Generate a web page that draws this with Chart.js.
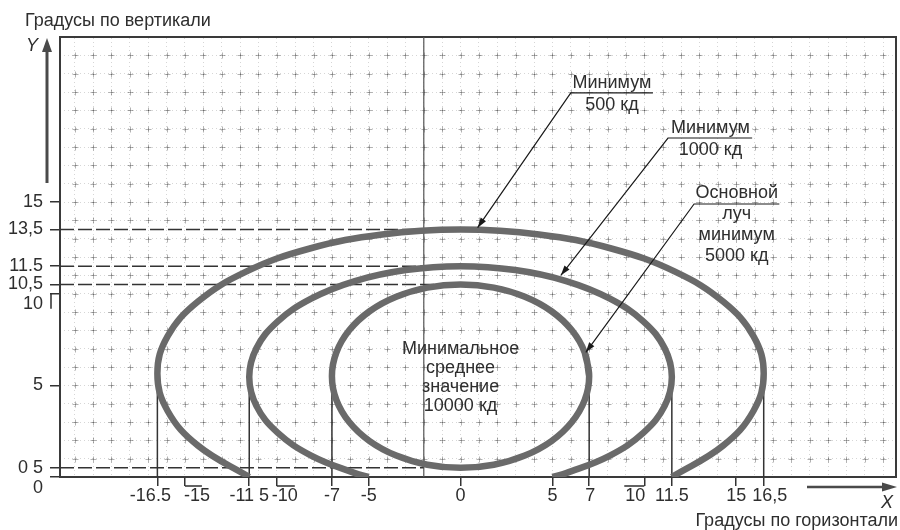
<!DOCTYPE html>
<html lang="ru">
<head>
<meta charset="utf-8">
<title>Градусы по вертикали и горизонтали</title>
<script src="https://cdn.jsdelivr.net/npm/chart.js@4.4.1/dist/chart.umd.min.js"></script>
<style>
  html, body { margin: 0; padding: 0; background: #fff; }
  #wrap { width: 900px; height: 530px; }
</style>
</head>
<body>
<div id="wrap"><canvas id="chart" width="900" height="530"></canvas></div>
<script>
// axis ranges, degrees
const xMin = -21.8, xMax = 23.7;
const yMin = 0, yMax = 24;

// ticks and the labels printed under them
const xTicks = [-16.5, -15, -11.5, -10, -7, -5, 0, 5, 7, 10, 11.5, 15, 16.5];
const xLabels = ['-16.5', '-15', '-11 5', '-10', '-7', '-5', '0', '5', '7', '10', '11.5', '15', '16,5'];
const yTicks = [0, 0.5, 5, 10, 10.5, 11.5, 13.5, 15];
const yLabels = ['0', '0 5', '5', '10', '10,5', '11.5', '13,5', '15'];

// isolines, points [x, y]
const curve500 = [[-11.5, 0], [-14.29, 1.71], [-15.94, 3.6], [-16.5, 5.64], [-15.94, 7.68], [-14.29, 9.57],
  [-11.67, 11.2], [-8.25, 12.45], [-4.27, 13.23], [0, 13.5], [4.27, 13.23], [8.25, 12.45], [11.67, 11.2],
  [14.29, 9.57], [15.94, 7.68], [16.5, 5.64], [15.94, 3.6], [14.29, 1.71], [11.5, 0]];
const curve1000 = [[-5, 0], [-5.75, 0.21], [-8.13, 1.17], [-9.96, 2.42], [-11.11, 3.88], [-11.5, 5.45],
  [-11.11, 7.02], [-9.96, 8.48], [-8.13, 9.73], [-5.75, 10.69], [-2.98, 11.29], [0, 11.5], [2.98, 11.29],
  [5.75, 10.69], [8.13, 9.73], [9.96, 8.48], [11.11, 7.02], [11.5, 5.45], [11.11, 3.88], [9.96, 2.42],
  [8.13, 1.17], [5.75, 0.21], [5, 0]];
const curve5000 = [[7, 5.5], [6.76, 6.79], [6.06, 8], [4.95, 9.04], [3.5, 9.83], [1.81, 10.33], [0, 10.5],
  [-1.81, 10.33], [-3.5, 9.83], [-4.95, 9.04], [-6.06, 8], [-6.76, 6.79], [-7, 5.5], [-6.76, 4.21],
  [-6.06, 3], [-4.95, 1.96], [-3.5, 1.17], [-1.81, 0.67], [0, 0.5], [1.81, 0.67], [3.5, 1.17], [4.95, 1.96],
  [6.06, 3], [6.76, 4.21], [7, 5.5], [6.76, 6.79]];

// dashed levels and the x where each one stops
const levelY = [13.5, 11.5, 10.5, 0.5];
const levelEnd = [0.8, 0.4, 0, -2];

// drop lines from the widest points down to the axis
const dropX = [-16.5, -11.5, -7, 7, 11.5, 16.5];
const dropTop = [5.64, 5.45, 5.5, 5.5, 5.45, 5.64];
const centerLineX = -2;

// callouts: arrow tip, underline start, underline end
const leader500 = [[0.93, 13.6], [6.0, 20.95], [10.47, 20.95]];
const leader1000 = [[5.46, 11.0], [11.29, 18.49], [15.87, 18.49]];
const leader5000 = [[6.82, 6.8], [12.71, 14.89], [17.35, 14.89]];
const noteText = [['Минимум', '500 кд'], ['Минимум', '1000 кд'],
  ['Основной', 'луч', 'минимум', '5000 кд'], ['Минимальное', 'среднее', 'значение', '10000 кд']];
const noteAt = [[8.24, 21.49], [13.6, 19.04], [15.03, 15.49], [0, 6.98]];

// styling only
const ink = '#2e2e2e';
const frame = '#3a3a3a';
const curveColor = '#6a6a6a';
const xLabelShift = [-7, 12, 0, 8, 0, 0, 0, 0, 1, -9, 0, 0, 6];
const xBracket = [0, 17, 0, 18, 0, 0, 0, 0, 0, -20, 0, 0, 0];
const yLowered = [true, false, false, true, false, false, false, false];
const noteGap = [22, 22, 21, 19];

const font = (size, style) => (style ? style + ' ' : '') + size + 'px "Liberation Sans", Arial, sans-serif';
const pts = arr => arr.map(p => ({ x: p[0], y: p[1] }));

function arrowHead(ctx, tx, ty, ang, len, half) {
  const bx = tx - len * Math.cos(ang), by = ty - len * Math.sin(ang);
  ctx.beginPath();
  ctx.moveTo(tx, ty);
  ctx.lineTo(bx + half * Math.sin(ang), by - half * Math.cos(ang));
  ctx.lineTo(bx - half * Math.sin(ang), by + half * Math.cos(ang));
  ctx.closePath();
  ctx.fill();
}

const drawings = {
  id: 'drawings',
  beforeDatasetsDraw(chart) {
    // small crosses on every grid node
    const { ctx, chartArea: a } = chart;
    const xs = chart.scales.xg, ys = chart.scales.yg;
    ctx.save();
    ctx.strokeStyle = 'rgba(0,0,0,0.3)';
    ctx.lineWidth = 1;
    ctx.beginPath();
    xs.ticks.forEach(tx => {
      const px = Math.round(xs.getPixelForValue(tx.value)) + 0.5;
      if (px <= a.left + 2 || px >= a.right - 2) return;
      ys.ticks.forEach(ty => {
        const py = Math.round(ys.getPixelForValue(ty.value)) + 0.5;
        if (py <= a.top + 2 || py >= a.bottom - 2) return;
        ctx.moveTo(px - 3, py); ctx.lineTo(px + 3, py);
        ctx.moveTo(px, py - 3); ctx.lineTo(px, py + 3);
      });
    });
    ctx.stroke();
    ctx.restore();
  },
  afterDraw(chart) {
    const { ctx, chartArea: a } = chart;
    const x = chart.scales.x, y = chart.scales.y;
    ctx.save();
    ctx.fillStyle = ink;
    ctx.strokeStyle = ink;
    ctx.font = font(18);
    ctx.textAlign = 'center';
    ctx.textBaseline = 'middle';

    // x tick labels and their little brackets
    xTicks.forEach((v, i) => ctx.fillText(xLabels[i], x.getPixelForValue(v) + xLabelShift[i], a.bottom + 19));
    ctx.lineWidth = 1.5;
    xTicks.forEach((v, i) => {
      if (!xBracket[i]) return;
      const px = x.getPixelForValue(v);
      ctx.beginPath();
      ctx.moveTo(px, a.bottom + 9);
      ctx.lineTo(px + xBracket[i], a.bottom + 9);
      ctx.stroke();
    });
    const p10 = y.getPixelForValue(10);
    ctx.beginPath();
    ctx.moveTo(a.left - 9, p10);
    ctx.lineTo(a.left - 9, p10 + 15);
    ctx.stroke();

    // callout texts
    noteText.forEach((lines, i) => {
      const cx = x.getPixelForValue(noteAt[i][0]);
      const cy = y.getPixelForValue(noteAt[i][1]);
      lines.forEach((t, j) => ctx.fillText(t, cx, cy + j * noteGap[i]));
    });

    // arrow heads on the leaders
    ctx.fillStyle = '#1a1a1a';
    [leader500, leader1000, leader5000].forEach(l => {
      const tx = x.getPixelForValue(l[0][0]), ty = y.getPixelForValue(l[0][1]);
      const fx = x.getPixelForValue(l[1][0]), fy = y.getPixelForValue(l[1][1]);
      arrowHead(ctx, tx, ty, Math.atan2(ty - fy, tx - fx), 10, 3.2);
    });

    // axis arrows and titles
    ctx.fillStyle = '#4a4a4a';
    ctx.strokeStyle = '#4a4a4a';
    ctx.lineWidth = 3;
    ctx.beginPath();
    ctx.moveTo(47, 183); ctx.lineTo(47, 48);
    ctx.stroke();
    arrowHead(ctx, 47, 38, -Math.PI / 2, 14, 5);
    ctx.lineWidth = 2.5;
    ctx.beginPath();
    ctx.moveTo(807, 487); ctx.lineTo(884, 487);
    ctx.stroke();
    arrowHead(ctx, 897, 487, 0, 15, 4.5);

    ctx.fillStyle = ink;
    ctx.font = font(18, 'italic');
    ctx.fillText('Y', 32, 46);
    ctx.fillText('X', 887, 503);
    ctx.font = font(18);
    ctx.textAlign = 'left';
    ctx.fillText('Градусы по вертикали', 25, 21);
    ctx.textAlign = 'right';
    ctx.fillText('Градусы по горизонтали', 898, 521);
    ctx.restore();
  }
};

const lineSet = (data, color, width, extra) => Object.assign({
  data: data, showLine: true, fill: false, pointRadius: 0, pointHoverRadius: 0,
  borderColor: color, borderWidth: width, tension: 0
}, extra || {});

const datasets = [
  lineSet(pts(leader500), '#1a1a1a', 1.2),
  lineSet(pts(leader1000), '#1a1a1a', 1.2),
  lineSet(pts(leader5000), '#1a1a1a', 1.2),
  lineSet(pts(curve500), curveColor, 6.5, { tension: 0.4 }),
  lineSet(pts(curve1000), curveColor, 6.5, { tension: 0.4 }),
  lineSet(pts(curve5000), curveColor, 6.5, { tension: 0.4 }),
  ...levelY.map((v, i) => lineSet([{ x: xMin, y: v }, { x: levelEnd[i], y: v }], '#333', 1.5, { borderDash: [14, 4] })),
  ...dropX.map((v, i) => lineSet([{ x: v, y: dropTop[i] }, { x: v, y: 0 }], '#333', 1.5)),
  lineSet([{ x: centerLineX, y: yMax }, { x: centerLineX, y: yMin }], '#555', 1.2)
];

Chart.defaults.font.family = '"Liberation Sans", Arial, sans-serif';
Chart.defaults.font.size = 18;
Chart.defaults.color = ink;

new Chart(document.getElementById('chart'), {
  type: 'scatter',
  data: { datasets: datasets },
  plugins: [drawings],
  options: {
    responsive: false,
    animation: false,
    events: [],
    layout: { padding: 0 },
    plugins: { legend: { display: false }, tooltip: { enabled: false } },
    scales: {
      x: {
        type: 'linear', position: 'bottom', min: xMin, max: xMax,
        afterBuildTicks: s => { s.ticks = xTicks.map(v => ({ value: v })); },
        afterFit: s => { s.height = 53; },
        ticks: { display: false, autoSkip: false },
        grid: { drawOnChartArea: false, tickLength: 9, color: '#333', lineWidth: 1.5 },
        border: { color: frame, width: 2 }
      },
      y: {
        type: 'linear', position: 'left', min: yMin, max: yMax,
        afterBuildTicks: s => { s.ticks = yTicks.map(v => ({ value: v })); },
        afterFit: s => { s.width = 60; },
        ticks: {
          autoSkip: false, padding: 7, color: ink, font: { size: 18 },
          callback: (v, i) => yLowered[i] ? ['', yLabels[i]] : yLabels[i]
        },
        grid: { drawOnChartArea: false, tickLength: 10, color: '#333', lineWidth: 1.5 },
        border: { color: frame, width: 2 }
      },
      xg: {
        type: 'linear', position: 'top', min: xMin, max: xMax,
        afterFit: s => { s.height = 37; },
        ticks: { display: false, stepSize: 1, includeBounds: false },
        grid: { color: 'rgba(0,0,0,0.16)', lineWidth: 1, drawTicks: false },
        border: { color: frame, width: 2, dash: [1, 3] }
      },
      yg: {
        type: 'linear', position: 'right', min: yMin, max: yMax,
        afterFit: s => { s.width = 4; },
        ticks: { display: false, stepSize: 1, includeBounds: false },
        grid: { color: 'rgba(0,0,0,0.16)', lineWidth: 1, drawTicks: false },
        border: { color: frame, width: 2, dash: [1, 3] }
      }
    }
  }
});
</script>
</body>
</html>
